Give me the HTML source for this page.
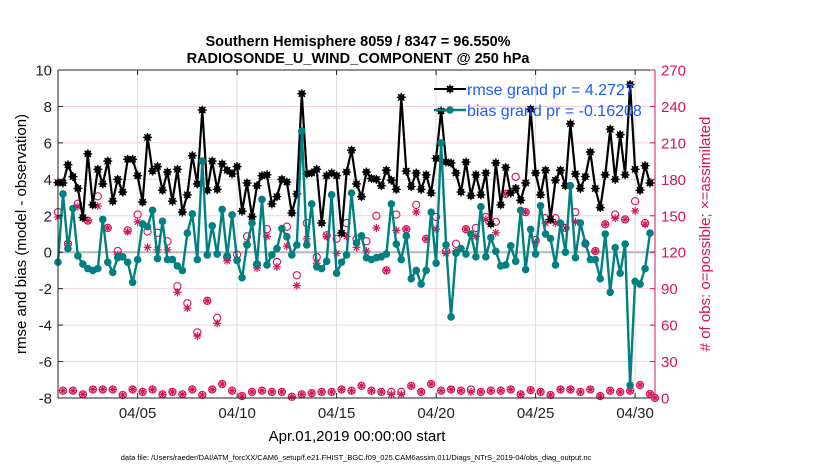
<!DOCTYPE html>
<html><head><meta charset="utf-8">
<style>
html,body{margin:0;padding:0;background:#fff;}
svg{display:block;font-family:"Liberation Sans",sans-serif;}
</style></head>
<body>
<svg id="chart" width="830" height="470" viewBox="0 0 830 470" xmlns="http://www.w3.org/2000/svg">
<text x="358" y="46" font-size="14.5" font-weight="bold" text-anchor="middle">Southern Hemisphere 8059 / 8347 = 96.550%</text>
<text x="358" y="63" font-size="14.5" font-weight="bold" text-anchor="middle">RADIOSONDE_U_WIND_COMPONENT @ 250 hPa</text>
<g id="grid"></g>
<g id="marks"></g>
<g id="axes"></g>
<text font-size="15" text-anchor="middle" transform="translate(26,234) rotate(-90)">rmse and bias (model - observation)</text>
<text font-size="15" fill="#d4145a" text-anchor="middle" transform="translate(710,234) rotate(-90)"># of obs: o=possible; ×=assimilated</text>
<text x="357" y="441" font-size="15" text-anchor="middle">Apr.01,2019 00:00:00 start</text>
<text x="356" y="460" font-size="7.5" text-anchor="middle">data file: /Users/raeder/DAI/ATM_forcXX/CAM6_setup/f.e21.FHIST_BGC.f09_025.CAM6assim.011/Diags_NTrS_2019-04/obs_diag_output.nc</text>
<g id="legend"></g>
</svg>
<script>
const rmse = [3.82,3.8,4.8,4.15,3.5,1.9,5.4,2.6,4.55,3.75, 5.0,2.8,4.0,3.3,5.1,5.1,4.2,2.75,6.3,4.45, 4.7,3.4,4.4,2.8,4.55,2.2,3.15,5.3,3.75,7.8, 3.4,5.0,3.45,4.85,4.5,4.3,4.7,2.25,3.8,1.95, 3.65,4.2,4.25,2.65,3.05,4.0,3.85,2.15,3.2,8.7, 4.3,4.35,4.55,1.6,4.2,4.35,4.2,1.05,4.4,5.6, 3.75,3.05,4.4,4.05,4.0,3.65,4.5,3.95,3.45,8.5, 4.45,3.6,4.35,3.45,4.25,3.25,5.15,7.75,4.95,4.9, 4.35,3.3,4.95,3.1,4.25,3.15,4.35,1.55,4.9,2.6, 4.65,3.25,3.5,2.85,3.8,7.85,4.35,3.15,4.5,1.8, 3.95,4.5,3.65,7.05,4.3,3.5,4.15,5.5,3.5,2.45, 4.25,6.75,4.0,6.45,4.25,9.2,4.55,3.4,4.75,3.8];
const bias = [-0.55,3.2,0.2,2.4,-0.2,-0.65,-0.9,-1.0,-0.9,1.8, -0.55,-1.1,-0.3,-0.25,-0.55,-1.65,-0.4,1.55,1.4,2.3, -0.35,1.7,-0.4,-0.4,-0.75,-1.0,1.05,2.1,-0.4,5.0, -0.15,1.45,-0.1,2.35,-0.2,2.05,-0.45,-1.4,0.4,1.6, -0.65,2.9,-0.7,-0.15,0.2,1.3,0.85,-0.15,0.4,6.65, 0.4,2.65,-0.8,-0.9,-0.5,3.15,-1.15,-0.55,-0.15,3.25, 0.5,0.9,-0.3,-0.4,-0.3,-0.25,-0.1,2.65,0.45,-0.4, 0.9,-1.45,-1.0,-1.75,-1.0,2.2,-0.6,6.0,0.4,-3.55, -0.05,0.2,-0.1,1.0,-0.25,2.5,-0.25,0.8,0.05,-0.75, -0.7,0.35,-0.5,2.3,-0.95,1.25,-0.1,2.55,1.0,0.75, -0.7,1.6,0,3.65,-0.3,1.6,0.5,-0.4,-0.4,-1.45, 1.0,-2.2,0.25,-1.15,0.45,-7.3,-1.6,-1.75,-0.9,1.05];
const possible = [153,6,127,6,160,3,146,7,166,7, 140,7,121,2.5,138,7,151,5,137,7, 136,3,129,5,92,3,78,7,54,2.5, 80,7,66,11.5,116,6,118,1.6,133,5, 110,6,139,5,112,5,141,1,101,3, 144,4,116,5,134,5,131,7,144,6, 131,10,129,6,150,5,105,5,151,5, 139,10,159,5,131,11.5,149,6,121,7, 127,6,139,7,140,5,149,6,145,6, 168,7,182,3,153,6.5,130,5,148,2.5, 148,7,140,7,153,5,127,7,121,1.6, 143,6,151,5,147,6,162,10.7,144,3.3, 0];
const assimilated = [149,6,127,6,157.5,3,146,7,158,7, 140,7,118,2.5,137,7,145,5,124,7, 122,3,122,5,87,3,74,7,51,2.5, 80,7,61.5,11.5,113,6,114,1.6,127,5, 107,6,133,5,108,5,125,1,92.5,3, 131,4,111,5,133,5,119,7,133,6, 124,10,121,6,140,5,105,3,138,3, 139,10,153,5,131,11.5,139,6,119,7, 121,6,139,5,133,5,147,6,136,6, 168,7,172.6,3,153,6.5,128,5,144,2.5, 144,7,140,7,145,5,127,7,121,1.6, 143,6,148,5,147,6,154,10.7,143,3.3, 0];
const yTicksLeft = [-8,-6,-4,-2,0,2,4,6,8,10];
const yTicksRight = [0,30,60,90,120,150,180,210,240,270];
const xTickDays = [4,9,14,19,24,29];
const xTickLabels = ["04/05","04/10","04/15","04/20","04/25","04/30"];

const X0=58, X1=655, Y0=398, Y1=70;
const xDay = d => X0 + d/30*(X1-X0);
const xIdx = i => xDay(i/4);
const yL = v => Y0 - (v+8)/18*(Y0-Y1);
const yR = c => Y0 - c/270*(Y0-Y1);
const NS="http://www.w3.org/2000/svg";
function mk(parent, tag, attrs){const e=document.createElementNS(NS,tag);for(const k in attrs)e.setAttribute(k,attrs[k]);parent.appendChild(e);return e;}
const grid=document.getElementById('grid'), marks=document.getElementById('marks'), axes=document.getElementById('axes'), legend=document.getElementById('legend');
const RED="#d4145a", TEAL="#008080";

yTicksLeft.forEach(v=>{
  const l=mk(grid,'line',{x1:X0,x2:X1,y1:yL(v),y2:yL(v),stroke:'#f2d2de','stroke-width':1});
  
  
});
xTickDays.forEach(d=>{
  const l=mk(grid,'line',{x1:xDay(d),x2:xDay(d),y1:Y1,y2:Y0,stroke:'#dcdcdc','stroke-width':1});
  
  
});
const zl=mk(grid,'line',{x1:X0,x2:X1,y1:yL(0),y2:yL(0),stroke:'#bdbdbd','stroke-width':2.2});



function star(g,x,y,r,color,w){
  for(let k=0;k<4;k++){const a=k*Math.PI/4;
    mk(g,'line',{x1:x-r*Math.cos(a),y1:y-r*Math.sin(a),x2:x+r*Math.cos(a),y2:y+r*Math.sin(a),stroke:color,'stroke-width':w});}
}
for(let i=0;i<possible.length;i++){
  const x=xIdx(i);
  const g=mk(marks,'g',{});
  
  
  mk(g,'circle',{cx:x,cy:yR(possible[i]),r:3.6,fill:'none',stroke:RED,'stroke-width':1.1});
  star(g,x,yR(assimilated[i]),4,RED,1.2);
}
const rp=rmse.map((v,i)=>xIdx(i).toFixed(1)+','+yL(v).toFixed(1)).join(' ');
const rl=mk(marks,'polyline',{points:rp,fill:'none',stroke:'#000','stroke-width':2.2});


rmse.forEach((v,i)=>{
  const g=mk(marks,'g',{});
  
  
  mk(g,'circle',{cx:xIdx(i),cy:yL(v),r:3.3,fill:'#000'});
  star(g,xIdx(i),yL(v),4.5,'#000',1.3);
});
const bp=bias.map((v,i)=>xIdx(i).toFixed(1)+','+yL(v).toFixed(1)).join(' ');
const bl=mk(marks,'polyline',{points:bp,fill:'none',stroke:TEAL,'stroke-width':2.4});


bias.forEach((v,i)=>{
  const c=mk(marks,'circle',{cx:xIdx(i),cy:yL(v),r:3.8,fill:TEAL});
  
  
});

mk(axes,'line',{x1:X0,x2:X1,y1:Y1,y2:Y1,stroke:'#222','stroke-width':1});
mk(axes,'line',{x1:X0,x2:X1,y1:Y0,y2:Y0,stroke:'#222','stroke-width':1});
mk(axes,'line',{x1:X0,x2:X0,y1:Y1,y2:Y0,stroke:'#222','stroke-width':1});
mk(axes,'line',{x1:X1,x2:X1,y1:Y1,y2:Y0,stroke:RED,'stroke-width':1});
yTicksLeft.forEach(v=>{
  mk(axes,'line',{x1:X0,x2:X0+5,y1:yL(v),y2:yL(v),stroke:'#222'});
  const t=mk(axes,'text',{x:X0-6,y:yL(v)+5.5,'font-size':15,'text-anchor':'end',fill:'#222'});
  t.textContent=v;
  
  
});
yTicksRight.forEach(c=>{
  mk(axes,'line',{x1:X1-5,x2:X1,y1:yR(c),y2:yR(c),stroke:RED});
  const t=mk(axes,'text',{x:X1+6,y:yR(c)+5.5,'font-size':15,fill:RED});
  t.textContent=c;
  
  
});
xTickDays.forEach((d,k)=>{
  mk(axes,'line',{x1:xDay(d),x2:xDay(d),y1:Y0,y2:Y0-5,stroke:'#222'});
  mk(axes,'line',{x1:xDay(d),x2:xDay(d),y1:Y1,y2:Y1+5,stroke:'#222'});
  const t=mk(axes,'text',{x:xDay(d),y:418,'font-size':15,'text-anchor':'middle',fill:'#222'});
  t.textContent=xTickLabels[k];
  
  
});

const lg1=mk(legend,'g',{});


mk(lg1,'line',{x1:434,x2:466,y1:89,y2:89,stroke:'#000','stroke-width':2});
mk(lg1,'circle',{cx:450,cy:89,r:3.3,fill:'#000'});
star(lg1,450,89,4.5,'#000',1.3);
const t1=mk(lg1,'text',{x:467,y:95,'font-size':16,fill:'#1a5cff'});
t1.textContent='rmse grand pr = 4.2727';
const lg2=mk(legend,'g',{});


mk(lg2,'line',{x1:434,x2:466,y1:110,y2:110,stroke:TEAL,'stroke-width':2.4});
mk(lg2,'circle',{cx:450,cy:110,r:3.8,fill:TEAL});
const t2=mk(lg2,'text',{x:467,y:116,'font-size':16,fill:'#1a5cff'});
t2.textContent='bias grand pr = -0.16208';
</script>
</body></html>
